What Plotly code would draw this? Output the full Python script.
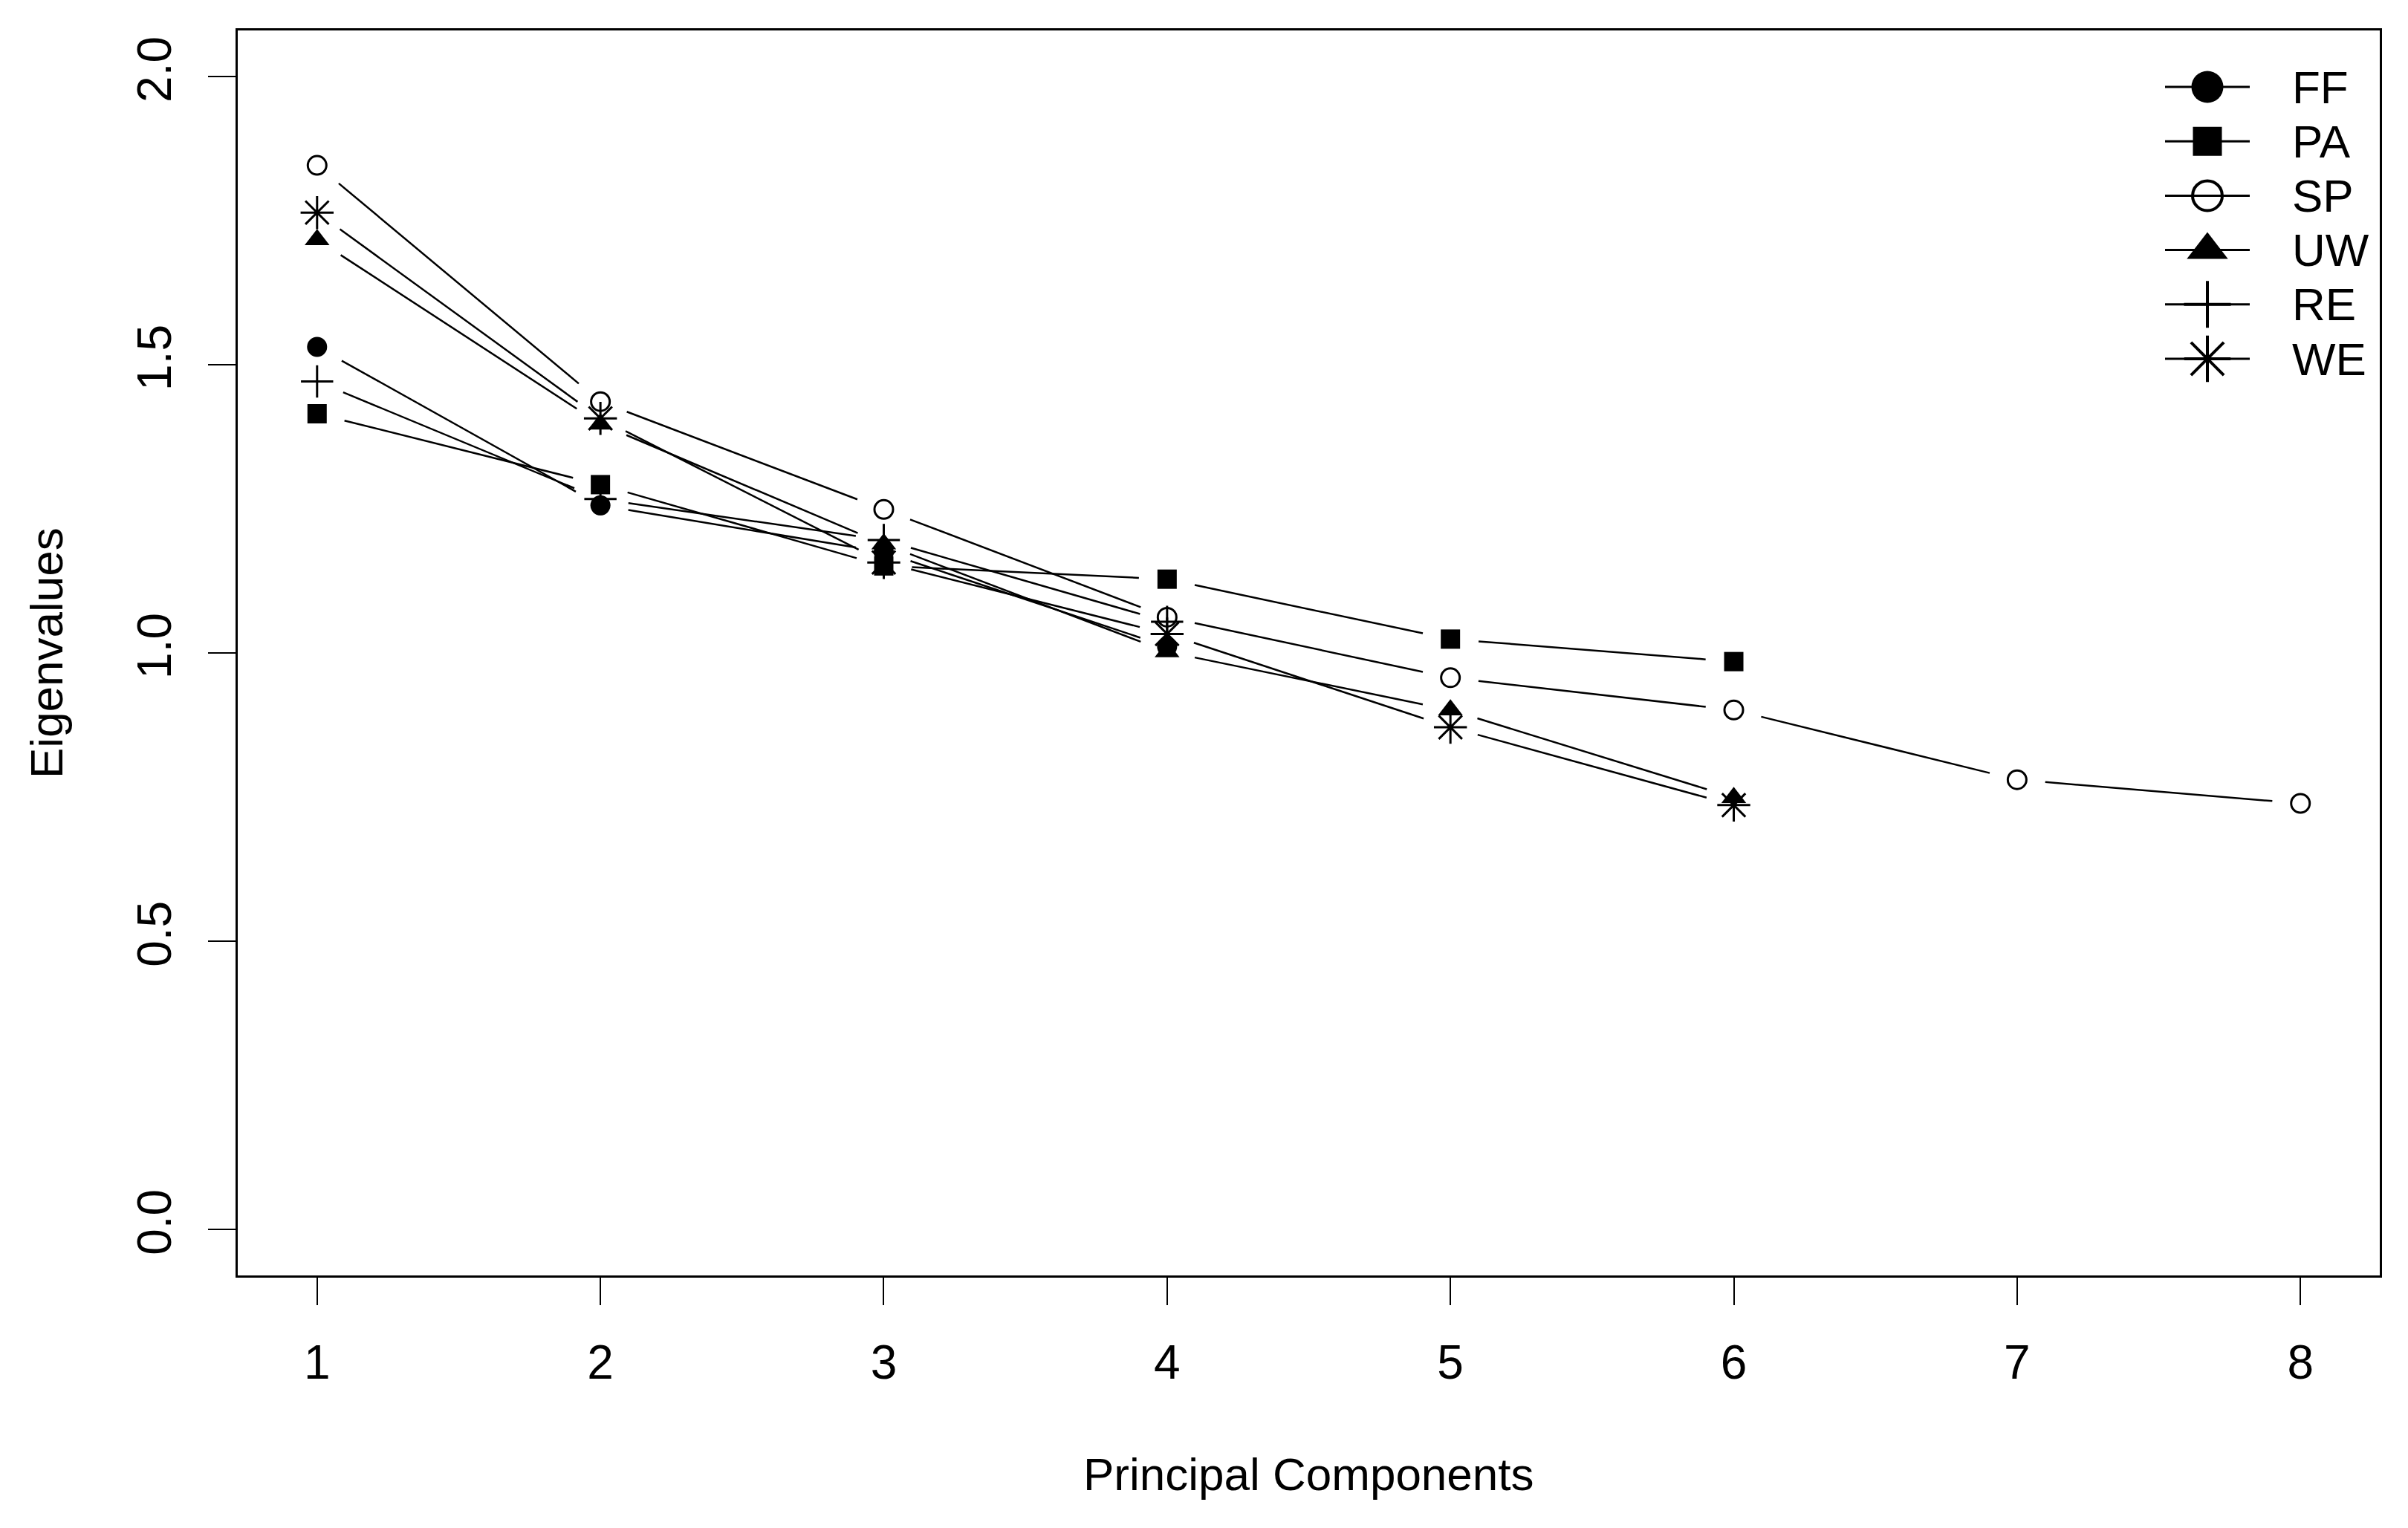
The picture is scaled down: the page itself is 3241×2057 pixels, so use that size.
import math
import plotly.graph_objects as go

# ---------------- data ----------------
components = [1, 2, 3, 4, 5, 6, 7, 8]
series_names = ["FF", "PA", "SP", "UW", "RE", "WE"]
ff = [1.531, 1.256, 1.175, 1.011]
pa = [1.415, 1.292, 1.151, 1.128, 1.024, 0.985]
sp = [1.846, 1.436, 1.249, 1.062, 0.957, 0.901, 0.780, 0.739]
uw = [1.717, 1.397, 1.189, 1.002, 0.901, 0.749]
re_ = [1.471, 1.267, 1.196, 1.054]
we = [1.764, 1.407, 1.157, 1.033, 0.871, 0.736]
x_ticks = [1, 2, 3, 4, 5, 6, 7, 8]
x_tick_labels = ["1", "2", "3", "4", "5", "6", "7", "8"]
y_ticks = [0.0, 0.5, 1.0, 1.5, 2.0]
y_tick_labels = ["0.0", "0.5", "1.0", "1.5", "2.0"]

values = [ff, pa, sp, uw, re_, we]

# ---------------- styles ----------------
styles = {
    "FF": dict(symbol="circle", size=27, lw=0, lsize=43),
    "PA": dict(symbol="square", size=26, lw=0, lsize=39),
    "SP": dict(symbol="circle-open", size=25, lw=3, lsize=40),
    "UW": dict(symbol="triangle-up", size=29, lw=0, lsize=48),
    "RE": dict(symbol="cross-thin-open", size=31, lw=3, lsize=45),
    "WE": dict(symbol="asterisk-open", size=37, lw=3, lsize=52),
}

# page is offset by the 8px default body margin
OFF = 8
W, H = 3241 - 2 * OFF, 2057 - 2 * OFF
# target plot area in window pixels: x 320..3203, y 41..1717
ML = 320 - OFF
MT = 41 - OFF
MR = (OFF + W) - 3203
MB = (OFF + H) - 1717
XR = [0.72, 8.28]
YR = [-0.08, 2.08]
pw, ph = W - ML - MR, H - MT - MB
sx = pw / (XR[1] - XR[0])
sy = ph / (YR[1] - YR[0])
GAP = 38  # pixels left empty around each point (type="b")
FONT = "Liberation Sans, Arial, sans-serif"
FS = 62
FS_TICK = 64

fig = go.Figure()

for name, vals in zip(series_names, values):
    xs = components[:len(vals)]
    lx, ly = [], []
    for i in range(len(vals) - 1):
        x0, y0, x1, y1 = xs[i], vals[i], xs[i + 1], vals[i + 1]
        dxp, dyp = (x1 - x0) * sx, (y1 - y0) * sy
        L = math.hypot(dxp, dyp)
        t = GAP / L
        lx += [x0 + t * (x1 - x0), x1 - t * (x1 - x0), None]
        ly += [y0 + t * (y1 - y0), y1 - t * (y1 - y0), None]
    fig.add_trace(go.Scatter(x=lx, y=ly, mode="lines",
                             line=dict(color="black", width=2.5),
                             showlegend=False, hoverinfo="skip"))
    st = styles[name]
    fig.add_trace(go.Scatter(
        x=xs, y=vals, mode="markers", name=name, showlegend=False,
        marker=dict(symbol=st["symbol"], size=st["size"], color="black",
                    line=dict(color="black", width=st["lw"]))))

# ---------------- custom legend (pixel axes, window coordinates) ----------------
leg_x_sym = 2971
leg_x_l0, leg_x_l1 = 2914, 3028
leg_x_txt = 3083
leg_y0, leg_dy = 117, 73.2

lx, ly = [], []
for i, name in enumerate(series_names):
    yy = leg_y0 + i * leg_dy
    lx += [leg_x_l0, leg_x_l1, None]
    ly += [yy, yy, None]
fig.add_trace(go.Scatter(x=lx, y=ly, mode="lines", xaxis="x2", yaxis="y2",
                         line=dict(color="black", width=3),
                         showlegend=False, hoverinfo="skip"))
for i, name in enumerate(series_names):
    yy = leg_y0 + i * leg_dy
    st = styles[name]
    fig.add_trace(go.Scatter(
        x=[leg_x_sym], y=[yy], mode="markers", xaxis="x2", yaxis="y2",
        showlegend=False, hoverinfo="skip",
        marker=dict(symbol=st["symbol"], size=st["lsize"], color="black",
                    line=dict(color="black", width=st["lw"] + (1 if st["lw"] else 0)))))
    fig.add_annotation(x=leg_x_txt, y=yy, xref="x2", yref="y2", text=name,
                       showarrow=False, xanchor="left", yanchor="middle",
                       font=dict(family=FONT, size=FS, color="black"))

# ---------------- axis titles ----------------
fig.add_annotation(x=0.5, y=(1717 - 1984) / ph, xref="paper", yref="paper",
                   text="Principal Components", showarrow=False,
                   xanchor="center", yanchor="middle",
                   font=dict(family=FONT, size=FS, color="black"))
fig.add_annotation(x=(62 - 320) / pw, y=0.5, xref="paper", yref="paper",
                   text="Eigenvalues", showarrow=False, textangle=-90,
                   xanchor="center", yanchor="middle",
                   font=dict(family=FONT, size=FS, color="black"))

fig.update_layout(
    width=W, height=H, autosize=False,
    margin=dict(l=ML, r=MR, t=MT, b=MB, pad=0),
    paper_bgcolor="white", plot_bgcolor="white",
    showlegend=False,
    xaxis=dict(range=XR, tickvals=x_ticks, ticktext=x_tick_labels,
               showgrid=False, zeroline=False, showline=True, mirror=True,
               linecolor="black", linewidth=3, ticks="outside", ticklen=37,
               tickwidth=2, tickcolor="black", ticklabelstandoff=22,
               tickfont=dict(family=FONT, size=FS_TICK, color="black")),
    yaxis=dict(range=YR, tickvals=y_ticks, ticktext=y_tick_labels,
               showgrid=False, zeroline=False, showline=True, mirror=True,
               linecolor="black", linewidth=3, ticks="outside", ticklen=37,
               tickwidth=2, tickcolor="black", tickangle=-90,
               ticklabelstandoff=24,
               tickfont=dict(family=FONT, size=FS_TICK, color="black")),
    xaxis2=dict(range=[320, 3203], overlaying="x", anchor="y2", visible=False,
                fixedrange=True),
    yaxis2=dict(range=[1717, 41], overlaying="y", anchor="x2", visible=False,
                fixedrange=True),
)

fig.write_html("out.html")
